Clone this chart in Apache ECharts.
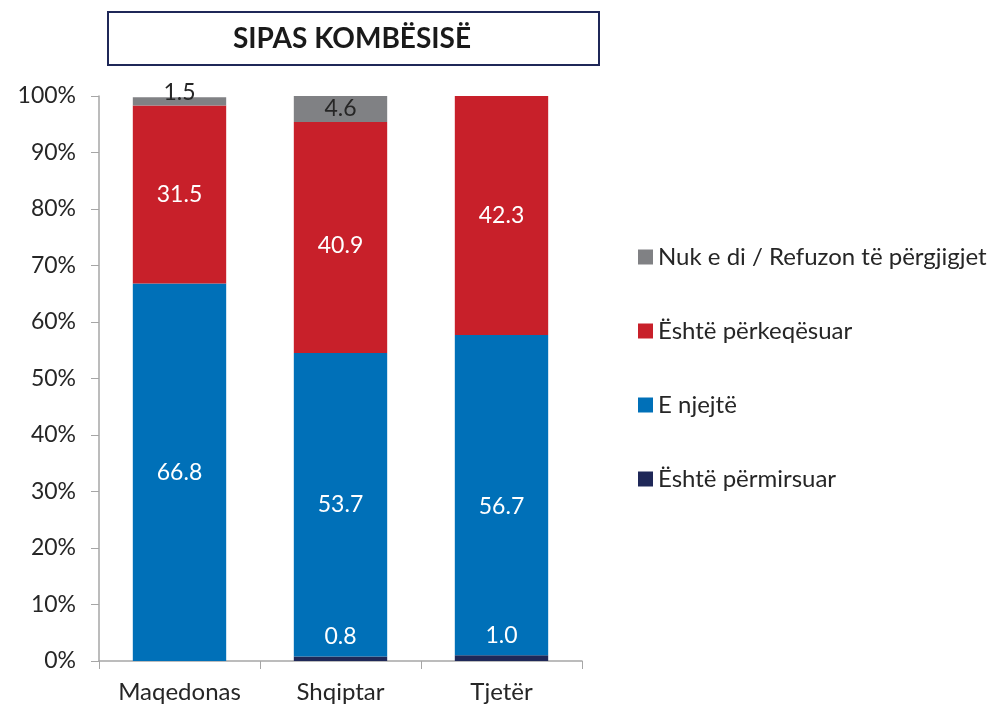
<!DOCTYPE html>
<html lang="en">
<head>
    <meta charset="UTF-8">
    <title>Sipas kombësisë</title>
    <script src="https://cdn.jsdelivr.net/npm/echarts@6/dist/echarts.min.js"></script>
</head>
<style>
    * {
        margin: 0px;
        padding: 0px;
    }
    html, body {
        width: 100%;
        height: 100%;
        overflow: hidden;
        background: #fff;
    }
    .container {
        width: 994px;
        height: 708px;
    }
</style>
<body>
    <div class="container"></div>
</body>
<script>
    // data
    let categories = ['Maqedonas', 'Shqiptar', 'Tjetër'];
    let permirsuar = [null, 0.8, 1.0];
    let njejte = [66.8, 53.7, 56.7];
    let perkeqesuar = [31.5, 40.9, 42.3];
    let nukDi = [1.5, 4.6, null];
    let yTicks = [0, 10, 20, 30, 40, 50, 60, 70, 80, 90, 100];

    let font = 'Lato, "Open Sans", sans-serif';
    let container = document.querySelector('.container');
    let mycharts = echarts.init(container);

    function bar(name, data, color, label) {
        return {
            name: name,
            type: 'bar',
            stack: 'total',
            barWidth: '58%',
            data: data,
            itemStyle: { color: color },
            label: Object.assign({
                show: true,
                fontFamily: font,
                fontSize: 23,
                color: '#fff',
                formatter: p => p.value == null ? '' : p.value.toFixed(1)
            }, label)
        };
    }

    // small per-point label nudges, as in the original picture
    function nudge(data, offsets) {
        return data.map((v, i) => offsets[i] ? { value: v, label: { offset: offsets[i] } } : v);
    }

    let series = [
        bar('Është përmirsuar', permirsuar, '#1f2858', { position: 'top', distance: 8 }),
        bar('E njejtë', nudge(njejte, [null, null, [0, 11]]), '#0070b8', { position: 'inside' }),
        bar('Është përkeqësuar', nudge(perkeqesuar, [null, [0, 8], null]), '#c8202a', { position: 'inside' }),
        bar('Nuk e di / Refuzon të përgjigjet', nudge(nukDi, [[0, -9], null, null]), '#808184', { position: 'inside', color: '#262626' })
    ];

    let option = {
        backgroundColor: '#fff',
        textStyle: { fontFamily: font },
        graphic: [{
            type: 'rect',
            left: 107,
            top: 11,
            shape: { width: 491, height: 53 },
            style: { fill: '#fff', stroke: '#1f2858', lineWidth: 2 }
        }, {
            type: 'text',
            x: 352,
            y: 39,
            style: {
                text: 'SIPAS KOMBËSISË',
                font: 'bold 28px ' + font,
                fill: '#1a1a1a',
                align: 'center',
                verticalAlign: 'middle'
            }
        }],
        legend: {
            orient: 'vertical',
            left: 633,
            top: 240,
            itemWidth: 15,
            itemHeight: 15,
            itemGap: 50,
            icon: 'rect',
            data: ['Nuk e di / Refuzon të përgjigjet', 'Është përkeqësuar', 'E njejtë', 'Është përmirsuar'],
            textStyle: { fontFamily: font, fontSize: 24, color: '#262626' }
        },
        grid: {
            left: 99,
            right: 412,
            top: 96,
            bottom: 47
        },
        xAxis: {
            type: 'category',
            data: categories,
            axisLine: { lineStyle: { color: '#a6a6a6', width: 1.5 } },
            axisTick: { show: true, length: 8, lineStyle: { color: '#a6a6a6' } },
            axisLabel: { fontFamily: font, fontSize: 24, color: '#262626', margin: 19 }
        },
        yAxis: {
            type: 'value',
            min: yTicks[0],
            max: yTicks[yTicks.length - 1],
            interval: 10,
            splitLine: { show: false },
            axisLine: { show: true, lineStyle: { color: '#a6a6a6', width: 1.5 } },
            axisTick: { show: true, length: 8, lineStyle: { color: '#a6a6a6' } },
            axisLabel: { fontFamily: font, fontSize: 23, color: '#262626', margin: 23, formatter: '{value}%' }
        },
        series
    };
    mycharts.setOption(option);
</script>
</html>
